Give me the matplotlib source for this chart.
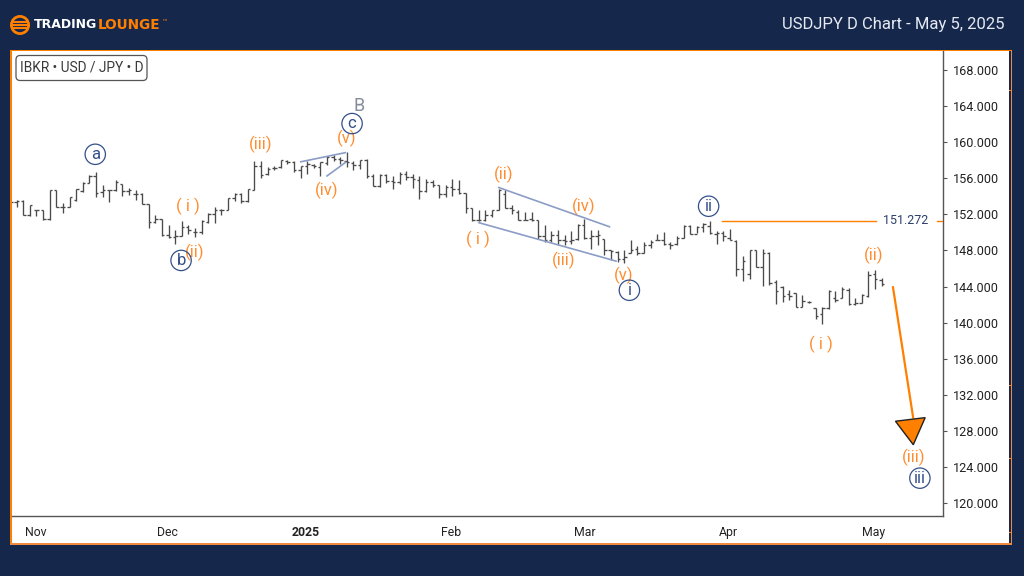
#!/usr/bin/env python3
"""USDJPY daily OHLC chart with Elliott wave labels."""
import matplotlib
matplotlib.use("Agg")
import matplotlib.pyplot as plt
from matplotlib.patches import FancyBboxPatch, Polygon, Rectangle, Circle

plt.rcParams["font.family"] = ["Roboto", "DejaVu Sans"]

NAVY = "#16274c"
ORANGE = "#ff7f00"
LABEL_ORANGE = "#ff8c2e"
WAVE_BLUE = "#34508a"
BAR_COLOR = "#4a4a4a"
LINE_BLUE = "#8b9dc6"

opens = [153.4, 153.4, 153.5, 151.9, 152.5, 152.5, 151.5, 154.7, 152.8, 152.8,
         153.6, 154.6, 155.5, 156.3, 154.5, 154.7, 154.7, 155.4, 154.6, 154.3,
         154.3, 153.1, 151.1, 151.5, 149.7, 149.5, 149.6, 150.6, 150.1, 150.0,
         151.2, 152.0, 152.5, 152.5, 153.8, 154.2, 153.5, 154.74, 157.32, 156.44,
         157.14, 157.25, 157.91, 157.8, 156.88, 157.32, 157.43, 157.25, 157.69, 158.36,
         158.17, 157.88, 157.69, 157.43, 157.99, 156.22, 155.11, 156.33, 155.7, 155.6,
         156.51, 156.14, 155.85, 154.6, 155.6, 155.22, 154.23, 155.04, 154.85, 154.37,
         152.71, 151.35, 151.4, 151.9, 152.46, 154.3, 152.75, 152.27, 151.43, 151.54,
         151.43, 149.58, 149.21, 149.69, 149.14, 149.03, 149.32, 150.8, 149.43, 149.58,
         149.32, 148.03, 147.85, 147.11, 147.74, 148.22, 147.74, 148.59, 149.21, 149.21,
         148.77, 148.77, 149.43, 150.69, 149.88, 150.62, 150.69, 149.88, 149.95, 149.43,
         149.07, 146.0, 145.45, 148.03, 146.19, 147.74, 144.53, 143.98, 143.17, 143.24,
         141.76, 142.32, 141.58, 140.95, 141.58, 142.69, 142.69, 143.68, 142.06, 142.21,
         142.94, 145.45, 144.71]
highs = [153.5, 153.57, 153.64, 153.05, 152.53, 152.53, 154.67, 154.75, 153.31, 153.94,
         154.82, 155.59, 156.33, 156.74, 155.3, 154.75, 155.85, 155.41, 154.97, 154.67,
         154.41, 153.12, 151.91, 151.54, 150.8, 150.25, 151.24, 150.8, 150.5, 151.35,
         152.17, 152.83, 152.64, 153.79, 154.38, 154.38, 154.86, 157.91, 157.91, 157.25,
         157.32, 158.06, 157.99, 157.91, 157.4, 157.91, 157.54, 157.84, 158.43, 158.54,
         158.36, 158.91, 157.91, 158.06, 158.1, 156.44, 156.44, 156.51, 156.22, 156.7,
         156.77, 156.51, 156.22, 155.96, 155.77, 155.22, 155.22, 155.88, 155.77, 154.37,
         152.75, 152.46, 152.53, 152.53, 154.86, 154.67, 153.01, 152.46, 152.27, 152.27,
         151.43, 150.8, 150.17, 150.32, 149.69, 150.17, 150.98, 151.54, 150.25, 150.25,
         149.32, 148.1, 147.96, 148.1, 149.21, 148.48, 148.96, 149.14, 149.88, 150.06,
         148.96, 149.58, 150.8, 150.8, 150.69, 151.06, 151.24, 150.17, 150.17, 150.43,
         149.14, 147.41, 148.11, 148.11, 148.22, 147.85, 144.71, 144.05, 143.61, 143.31,
         143.06, 142.39, 141.65, 141.69, 143.61, 143.5, 143.98, 143.87, 142.69, 143.16,
         145.71, 145.89, 145.01]
lows = [153.2, 152.83, 151.91, 151.8, 151.8, 151.43, 151.43, 152.83, 152.17, 152.76,
        153.49, 154.53, 155.48, 153.94, 153.94, 153.38, 154.6, 154.01, 154.12, 153.64,
        153.12, 150.54, 150.99, 149.58, 149.33, 148.77, 149.58, 149.81, 149.44, 149.88,
        150.99, 151.06, 151.9, 152.46, 153.49, 153.27, 153.38, 154.67, 156.07, 156.33,
        156.88, 157.18, 157.54, 156.7, 156.07, 156.51, 157.18, 156.29, 157.43, 157.91,
        157.62, 157.25, 156.95, 157.07, 156.07, 155.11, 155.04, 155.48, 154.85, 155.41,
        155.85, 154.96, 153.75, 154.48, 155.04, 153.86, 153.93, 154.0, 154.23, 152.16,
        151.28, 151.28, 151.3, 151.72, 152.46, 152.75, 152.09, 151.35, 151.35, 151.28,
        149.32, 148.96, 148.96, 148.59, 148.66, 148.77, 149.21, 149.32, 148.22, 148.59,
        147.48, 146.93, 146.74, 146.63, 147.74, 147.48, 147.74, 148.33, 149.14, 148.59,
        148.22, 148.59, 149.43, 149.8, 149.95, 150.06, 149.8, 148.77, 149.07, 149.14,
        145.19, 144.64, 144.9, 146.12, 144.09, 144.16, 142.13, 142.32, 142.5, 141.69,
        141.69, 142.2, 140.47, 139.85, 141.51, 142.32, 142.69, 141.95, 141.95, 142.2,
        142.8, 143.72, 144.09]
closes = [153.4, 153.5, 151.9, 153.0, 152.5, 151.5, 154.7, 152.8, 152.8, 153.9,
          154.8, 155.5, 156.3, 154.4, 154.7, 154.7, 155.6, 154.6, 154.7, 154.3,
          153.1, 151.1, 151.5, 149.7, 149.5, 149.6, 150.6, 150.3, 150.0, 151.3,
          152.0, 152.5, 152.5, 153.8, 154.2, 153.5, 154.8, 157.32, 156.33, 157.06,
          157.14, 157.99, 157.8, 156.88, 157.32, 157.62, 157.32, 157.8, 158.36, 158.17,
          157.99, 157.8, 157.43, 157.99, 156.22, 155.11, 156.33, 155.7, 155.6, 156.51,
          156.14, 155.96, 154.6, 155.6, 155.22, 154.23, 155.04, 154.85, 154.37, 152.71,
          151.35, 151.42, 151.9, 152.46, 154.75, 152.75, 152.46, 151.43, 151.43, 151.43,
          149.58, 149.21, 149.69, 149.14, 149.03, 149.14, 150.8, 149.43, 149.58, 149.69,
          148.03, 147.96, 147.11, 147.3, 148.1, 147.74, 148.59, 148.96, 149.21, 148.77,
          148.59, 149.43, 150.69, 149.88, 150.62, 150.98, 149.95, 149.95, 149.58, 149.21,
          146.0, 146.85, 148.03, 146.19, 147.74, 144.35, 143.53, 142.94, 142.94, 141.76,
          142.39, 142.32, 140.73, 141.58, 143.5, 142.5, 143.79, 142.06, 142.21, 143.06,
          145.34, 144.9, 144.24]

y_ticks = [120, 124, 128, 132, 136, 140, 144, 148, 152, 156, 160, 164, 168]
x_tick_idx = [3.9, 23.8, 44.8, 66.8, 87.1, 108.8, 130.8]
x_tick_labels = ["Nov", "Dec", "2025", "Feb", "Mar", "Apr", "May"]

# wave labels: text, bar index, price
orange_labels = [("( i )", 27.0, 152.9), ("(ii)", 27.9, 147.8), ("(iii)", 37.9, 159.76),
                 ("(iv)", 47.9, 154.7), ("(v)", 50.9, 160.46), ("( i )", 70.9, 149.2),
                 ("(ii)", 74.8, 156.4), ("(iii)", 83.8, 146.9), ("(iv)", 86.9, 152.9),
                 ("(v)", 92.9, 145.2), ("( i )", 122.8, 137.6), ("(ii)", 130.8, 147.5),
                 ("(iii)", 136.8, 125.1)]
circle_labels = [("a", 12.9, 158.65), ("b", 25.9, 146.9), ("c", 51.8, 162.05),
                 ("i", 93.8, 143.6), ("ii", 105.8, 152.9), ("iii", 137.8, 122.8)]

# channel lines: (idx0, price0, idx1, price1)
channels = [(43.9, 157.8, 50.9, 158.85), (47.9, 156.2, 50.9, 157.8),
            (73.9, 155.0, 90.9, 150.6), (70.9, 151.1, 91.9, 146.8)]

level_price = 151.272
arrow_start = (133.7, 144.05)
arrow_head = [(134.1, 129.1), (138.6, 129.5), (136.8, 126.5)]

W, H = 1024, 576
fig = plt.figure(figsize=(W / 100, H / 100), dpi=100, facecolor=NAVY)


def fx(x):
    return x / W


def fy(y):
    return 1 - y / H


def fig_rect(x0, y0, x1, y1, color):
    fig.add_artist(Rectangle((fx(x0), fy(y1)), (x1 - x0) / W, (y1 - y0) / H,
                             transform=fig.transFigure, facecolor=color,
                             edgecolor="none", zorder=-5))


# white panel with orange frame
fig_rect(11, 51, 1009, 543, "white")
fig_rect(10, 50, 1012, 51.3, ORANGE)
fig_rect(10, 50, 11.6, 545, ORANGE)
fig_rect(10, 543, 1012, 544.5, "#f08a3c")
fig_rect(1011, 50, 1012.2, 545, "#f08a3c")
for yy in [90, 385, 458, 532]:
    fig_rect(1009, yy, 1012, yy + 1, "#f08a3c")

ax = fig.add_axes([fx(11.6), fy(516), (943 - 11.6) / W, (516 - 51.3) / H])
ax.patch.set_alpha(0)
ax.set_xlim(0.23, 141.3)
ax.set_ylim(118.61, 170.05)

idx = list(range(len(closes)))
tick = 0.37
ax.vlines(idx, lows, highs, color=BAR_COLOR, lw=0.95)
ax.hlines(opens, [i - tick for i in idx], idx, color=BAR_COLOR, lw=0.95)
ax.hlines(closes, idx, [i + tick for i in idx], color=BAR_COLOR, lw=0.95)

for x0, y0, x1, y1 in channels:
    ax.plot([x0, x1], [y0, y1], color=LINE_BLUE, lw=1.2, solid_capstyle="butt", zorder=3)

# invalidation level
ax.plot([107.8, 131.2], [level_price, level_price], color=ORANGE, lw=1.0, zorder=3)
ax.plot([140.4, 141.3], [level_price, level_price], color=ORANGE, lw=1.0, zorder=3)
ax.text(135.7, level_price, f"{level_price:.3f}", color="#2b3f6b", fontsize=9.0,
        ha="center", va="center")

# projected arrow
ax.plot([arrow_start[0], arrow_head[0][0] * 0.4 + arrow_head[1][0] * 0.6],
        [arrow_start[1], 129.4], color=ORANGE, lw=1.6, zorder=4, solid_capstyle="butt")
ax.add_patch(Polygon(arrow_head, closed=True, facecolor=ORANGE, edgecolor="#222222",
                     lw=1.0, zorder=5))

for txt, x, y in orange_labels:
    ax.text(x, y, txt, color=LABEL_ORANGE, fontsize=12, ha="center", va="center", zorder=6)

for txt, x, y in circle_labels:
    ax.scatter([x], [y], s=215, facecolor="none", edgecolor=WAVE_BLUE, lw=0.9, zorder=6)
    ax.text(x, y, txt, color=WAVE_BLUE, fontsize=12, ha="center", va="center", zorder=7)
ax.text(52.9, 164.0, "B", color="#858a9c", fontsize=13, ha="center", va="center", zorder=6)

ax.yaxis.tick_right()
ax.set_yticks(y_ticks)
ax.set_yticklabels([f"{v:.3f}" for v in y_ticks], fontsize=9.1, color="#222222")
ax.tick_params(axis="y", length=3, width=0.8, color="#555555", pad=4.5)
ax.set_xticks(x_tick_idx)
ax.set_xticklabels(x_tick_labels, fontsize=8.8, color="#222222")
ax.tick_params(axis="x", length=0, pad=7)
ax.get_xticklabels()[2].set_fontweight("bold")
for s in ("top", "left"):
    ax.spines[s].set_visible(False)
for s in ("right", "bottom"):
    ax.spines[s].set_color("#555555")
    ax.spines[s].set_linewidth(1.0)

# symbol box
fig.add_artist(FancyBboxPatch((fx(16), fy(80.5)), 131 / W, 25 / H,
                              boxstyle="round,pad=0,rounding_size=0.004",
                              mutation_aspect=W / H, transform=fig.transFigure,
                              facecolor="white", edgecolor="#555555", lw=0.9))
fig.text(fx(81.5), fy(68), "IBKR \u2022 USD / JPY \u2022 D", color="#3a3a3a", fontsize=9.9,
         ha="center", va="center", family="Roboto", zorder=5)

# header
fig.text(fx(1004), fy(24), "USDJPY D Chart - May 5, 2025", color="#e6eaf2", fontsize=12,
         ha="right", va="center")

# logo
logo = fig.add_axes([0, fy(40), 40 / W, 40 / H])
logo.set_xlim(0, 40)
logo.set_ylim(40, 0)
logo.axis("off")
logo.add_patch(Circle((20, 25), 8.6, facecolor=NAVY, edgecolor=ORANGE, lw=2.0))
for yy, half in [(21.6, 7.5), (25, 9), (28.4, 7.5)]:
    logo.plot([20 - half, 20 + half], [yy, yy], color=ORANGE, lw=1.5, solid_capstyle="butt")
fig.text(fx(34), fy(25), "TRADING", color="white", fontsize=9.0, fontweight="bold",
         family="DejaVu Sans", ha="left", va="center")
fig.text(fx(97.5), fy(25), "LOUNGE", color=ORANGE, fontsize=9.8, fontweight="bold",
         family="DejaVu Sans", ha="left", va="center")
fig.text(fx(161), fy(22.5), "\u2122", color=ORANGE, fontsize=4.5, family="DejaVu Sans",
         ha="left", va="center")

fig.savefig("out.png", dpi=100, facecolor=NAVY)
